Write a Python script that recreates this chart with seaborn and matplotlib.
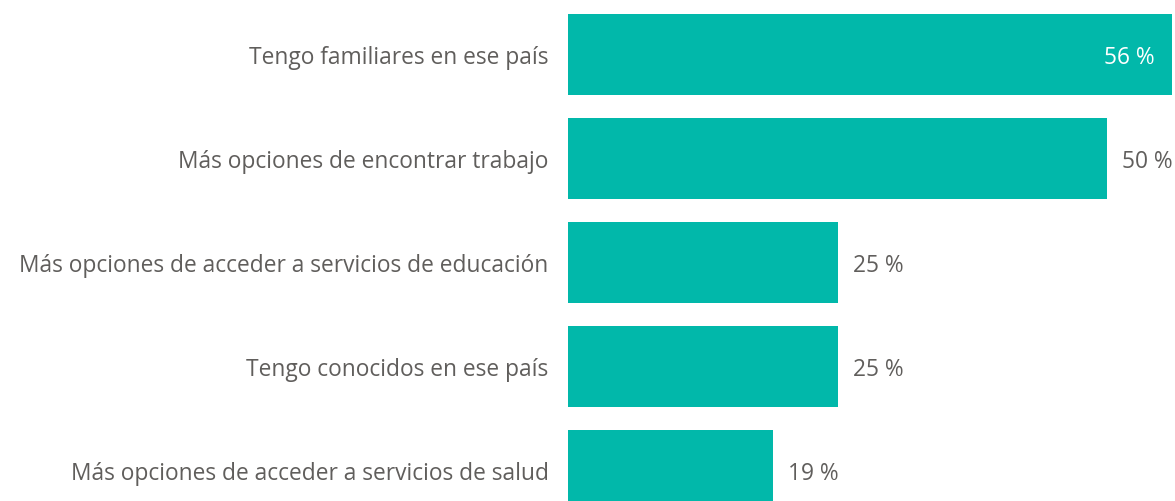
import pandas as pd
import numpy as np
import matplotlib.pyplot as plt
import seaborn as sns

categories = [
    "Tengo familiares en ese país",
    "Más opciones de encontrar trabajo",
    "Más opciones de acceder a servicios de educación",
    "Tengo conocidos en ese país",
    "Más opciones de acceder a servicios de salud",
]
values = [56, 50, 25, 25, 19]

df = pd.DataFrame({"motivo": categories, "pct": values})

sns.set_style("white")
plt.rcParams['font.family'] = ['Open Sans', 'DejaVu Sans']

fig = plt.figure(figsize=(11.75, 5.02), dpi=100)
ax = fig.add_axes([568 / 1175, 0, 607 / 1175, 1])

teal = "#01B8AA"
grey = "#605E5C"
fs = 16.4

sns.barplot(data=df, x="pct", y="motivo", orient="h", color=teal,
            width=0.78, saturation=1, linewidth=0, ax=ax)

ax.set_xlim(0, 607 / 10.78)
ax.set_ylim((502 - 55.3) / 104, -55.3 / 104)

### value labels: inside the bar if it runs to the edge, else outside
for i, v in enumerate(values):
    if v >= 55:
        ax.annotate(f"{v} %", xy=(v, i), xytext=(-12, 0), textcoords="offset points",
                    ha="right", va="center_baseline", color="white", fontsize=fs)
    else:
        ax.annotate(f"{v} %", xy=(v, i), xytext=(11, 0), textcoords="offset points",
                    ha="left", va="center_baseline", color=grey, fontsize=fs)

ax.set_xlabel("")
ax.set_ylabel("")
ax.set_xticks([])
ax.tick_params(axis="y", length=0, pad=14, labelsize=fs, labelcolor=grey)
for lbl in ax.get_yticklabels():
    lbl.set_verticalalignment("center_baseline")
sns.despine(ax=ax, left=True, bottom=True)

fig.savefig("out.png", dpi=100)
